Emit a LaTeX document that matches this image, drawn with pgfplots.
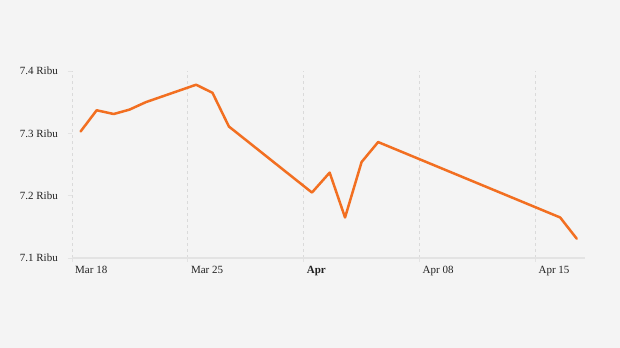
\documentclass[border=0pt]{standalone}
\usepackage{pgfplots}
\pgfplotsset{compat=1.18}
\usepackage{fontspec}
\setmainfont{Liberation Serif}
\definecolor{bg}{HTML}{F4F4F4}
\definecolor{grid}{HTML}{DADADA}
\definecolor{axisl}{HTML}{E3E3E3}
\definecolor{lineo}{HTML}{F26F21}
\definecolor{txt}{HTML}{222222}
\begin{document}
\begin{tikzpicture}
\fill[bg] (0,0) rectangle (620bp,348bp);
\begin{axis}[
  at={(72bp,90bp)}, anchor=south west,
  scale only axis, width=513bp, height=187bp,
  xmin=0, xmax=31, ymin=7.1, ymax=7.4,
  axis x line*=bottom, axis y line*=left,
  axis line style={draw=none},
  every axis plot post/.append style={},
  xtick={0,7,14,21,28},
  xticklabels={Mar 18,Mar 25,\textbf{Apr},Apr 08,Apr 15},
  ytick={7.1,7.2,7.3,7.4},
  yticklabels={7.1 Ribu,7.2 Ribu,7.3 Ribu,7.4 Ribu},
  tick align=outside,
  major tick length=4bp,
  tick style={draw=axisl, line width=0.8bp},
  xmajorgrids,
  major x grid style={draw=grid, dash pattern=on 3bp off 3bp, line width=0.8bp},
  ticklabel style={font=\fontsize{11bp}{13bp}\selectfont, text=txt, inner sep=0pt},
  xticklabel style={anchor=north west, xshift=3bp, yshift=-4bp},
  yticklabel style={anchor=east, xshift=-10bp},
  clip=false,
]
\draw[axisl, line width=1.5bp] (axis cs:0,7.1) -- (axis cs:31,7.1);
\addplot[lineo, line width=2.5bp, line join=round, line cap=round] coordinates {
(0.52,7.303) (1.49,7.337) (2.52,7.331) (3.47,7.338) (4.46,7.350)
(7.50,7.378) (8.49,7.365) (9.48,7.311) (14.50,7.205) (15.57,7.237)
(16.50,7.165) (17.50,7.254) (18.50,7.286) (29.50,7.165) (30.50,7.131)
};
\end{axis}
\end{tikzpicture}
\end{document}
